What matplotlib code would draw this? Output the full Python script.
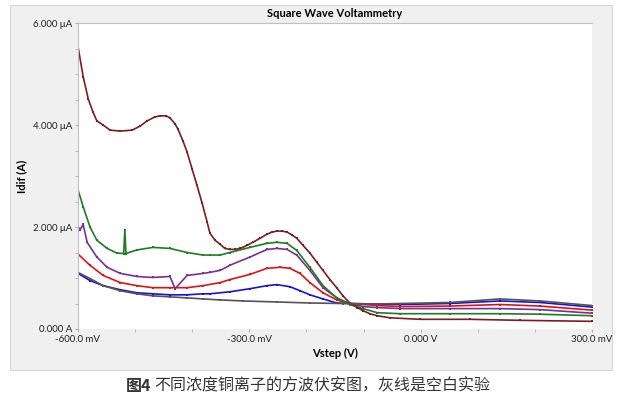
import matplotlib.pyplot as plt
from matplotlib.patches import Rectangle
from matplotlib.ticker import MultipleLocator

# potential (mV) and current (uA), one pair of lists per curve
brown_v = [-600, -591, -582, -574, -567, -556, -544, -526, -505, -491, -479, -465, -456, -446,
           -439, -430, -425, -416, -409, -400, -392, -383, -374, -369, -360, -351, -343, -334,
           -325, -316, -304, -294, -281, -269, -260, -252, -243, -234, -225, -217, -206, -194,
           -182, -171, -159, -147, -136, -124, -111, -101, -89, -76, -54, -1, 86, 174, 300]
brown_i = [5.54, 4.95, 4.51, 4.26, 4.08, 4.00, 3.90, 3.88, 3.90, 3.98, 4.08, 4.16, 4.18, 4.18,
           4.14, 4.02, 3.92, 3.68, 3.47, 3.13, 2.83, 2.48, 2.10, 1.88, 1.74, 1.66, 1.58, 1.56,
           1.56, 1.58, 1.64, 1.70, 1.78, 1.86, 1.90, 1.92, 1.92, 1.90, 1.84, 1.78, 1.64, 1.49,
           1.31, 1.15, 0.97, 0.81, 0.65, 0.51, 0.42, 0.36, 0.30, 0.26, 0.22, 0.19, 0.19, 0.17, 0.15]

green_v = [-600, -591, -579, -567, -549, -532, -520, -518, -516, -497, -469, -439, -409, -381,
           -369, -351, -334, -299, -269, -252, -234, -217, -194, -171, -147, -124, -101, -76,
           -36, 51, 139, 209, 300]
green_i = [2.73, 2.40, 2.00, 1.74, 1.58, 1.49, 1.48, 1.94, 1.48, 1.55, 1.60, 1.58, 1.50, 1.45,
           1.45, 1.45, 1.50, 1.60, 1.68, 1.70, 1.68, 1.54, 1.21, 0.85, 0.61, 0.48, 0.40, 0.32,
           0.30, 0.30, 0.30, 0.29, 0.26]

purple_v = [-600, -596, -591, -584, -567, -549, -526, -497, -469, -439, -430, -409, -381, -369,
            -351, -334, -299, -269, -252, -234, -217, -194, -171, -147, -124, -101, -76, -36,
            51, 139, 209, 300]
purple_i = [2.00, 1.95, 2.05, 1.70, 1.41, 1.21, 1.09, 1.03, 1.01, 1.03, 0.79, 1.05, 1.09, 1.11,
            1.15, 1.25, 1.41, 1.56, 1.58, 1.56, 1.45, 1.15, 0.81, 0.61, 0.50, 0.44, 0.42, 0.40,
            0.40, 0.40, 0.38, 0.31]

red_v = [-600, -579, -556, -526, -497, -469, -439, -409, -381, -351, -334, -299, -269, -246,
         -229, -211, -194, -171, -147, -124, -76, -36, 51, 139, 209, 300]
red_i = [1.47, 1.25, 1.05, 0.91, 0.85, 0.81, 0.81, 0.81, 0.85, 0.91, 0.97, 1.07, 1.19, 1.21,
         1.19, 1.09, 0.91, 0.71, 0.57, 0.50, 0.46, 0.44, 0.45, 0.48, 0.45, 0.37]

blue_v = [-600, -579, -556, -526, -497, -469, -439, -409, -381, -369, -334, -299, -269, -252,
          -229, -211, -194, -171, -147, -124, -76, -36, 51, 139, 209, 300]
blue_i = [1.09, 0.95, 0.85, 0.77, 0.71, 0.69, 0.67, 0.67, 0.69, 0.69, 0.73, 0.79, 0.85, 0.87,
          0.83, 0.75, 0.67, 0.59, 0.51, 0.50, 0.49, 0.48, 0.50, 0.55, 0.52, 0.43]

gray_v = [-600, -579, -556, -526, -497, -469, -439, -409, -381, -351, -311, -252, -194, -136,
          -76, -36, 51, 139, 209, 300]
gray_i = [1.11, 0.99, 0.85, 0.75, 0.69, 0.65, 0.63, 0.61, 0.59, 0.57, 0.55, 0.53, 0.51, 0.50,
          0.49, 0.50, 0.52, 0.59, 0.55, 0.46]

x_ticks = [-600, -300, 0, 300]
x_labels = ['-600.0 mV', '-300.0 mV', '0.000 V', '300.0 mV']
y_ticks = [0, 2, 4, 6]
y_labels = ['0.000 A', '2.000 μA', '4.000 μA', '6.000 μA']

plt.rcParams['font.family'] = ['Lato', 'DejaVu Sans']

fig = plt.figure(figsize=(6.22, 4.03), dpi=100)
fig.patch.set_facecolor('white')
panel = Rectangle((10 / 622, 1 - 370 / 403), 602 / 622, 365 / 403,
                  transform=fig.transFigure, facecolor='#f0f0f0',
                  edgecolor='#d6d6d6', linewidth=0.8, zorder=-5)
fig.add_artist(panel)

ax = fig.add_axes([78 / 622, 1 - 329 / 403, 514 / 622, 306 / 403])
ax.set_facecolor('white')
ax.set_zorder(2)

curves = [
    (blue_v, blue_i, '#1414d8'),
    (red_v, red_i, '#dd1414'),
    (purple_v, purple_i, '#7a2e96'),
    (green_v, green_i, '#1e7d22'),
    (brown_v, brown_i, '#7a1e22'),
    (gray_v, gray_i, '#555555'),
]
for v, i, c in curves:
    ax.plot(v, i, color=c, lw=1.2, marker='s', ms=1.8, mew=0)

ax.set_xlim(-600, 300)
ax.set_ylim(0, 6.0)
ax.set_xticks(x_ticks)
ax.set_xticklabels(x_labels, fontsize=7, color='#222222')
ax.set_yticks(y_ticks)
ax.set_yticklabels(y_labels, fontsize=7, color='#222222')
ax.xaxis.set_minor_locator(MultipleLocator(100))
ax.yaxis.set_minor_locator(MultipleLocator(0.5))
ax.tick_params(which='both', length=2, color='#b0b0b0', pad=2)

for s in ['right', 'bottom']:
    ax.spines[s].set_visible(False)
for s in ['left', 'top']:
    ax.spines[s].set_color('#c0c0c0')
    ax.spines[s].set_linewidth(0.8)

ax.set_title('Square Wave Voltammetry', fontsize=8, fontweight='bold', pad=4)
ax.set_xlabel('Vstep (V)', fontsize=8, fontweight='bold', labelpad=3)
ax.yaxis.set_label_coords(-51 / 514, 0.5)
ax.set_ylabel('Idif (A)', fontsize=8, fontweight='bold')

cjk = ['Noto Sans CJK SC', 'DejaVu Sans']
fig.text(151 / 622, 1 - 386 / 403, '图4', fontsize=11.5, fontweight='bold', color='#333333',
         ha='right', va='center', family=cjk)
fig.text(154 / 622, 1 - 386 / 403, '不同浓度铜离子的方波伏安图，灰线是空白实验', fontsize=11.5,
         color='#333333', ha='left', va='center', family=cjk)

fig.savefig('out.png', dpi=100)
